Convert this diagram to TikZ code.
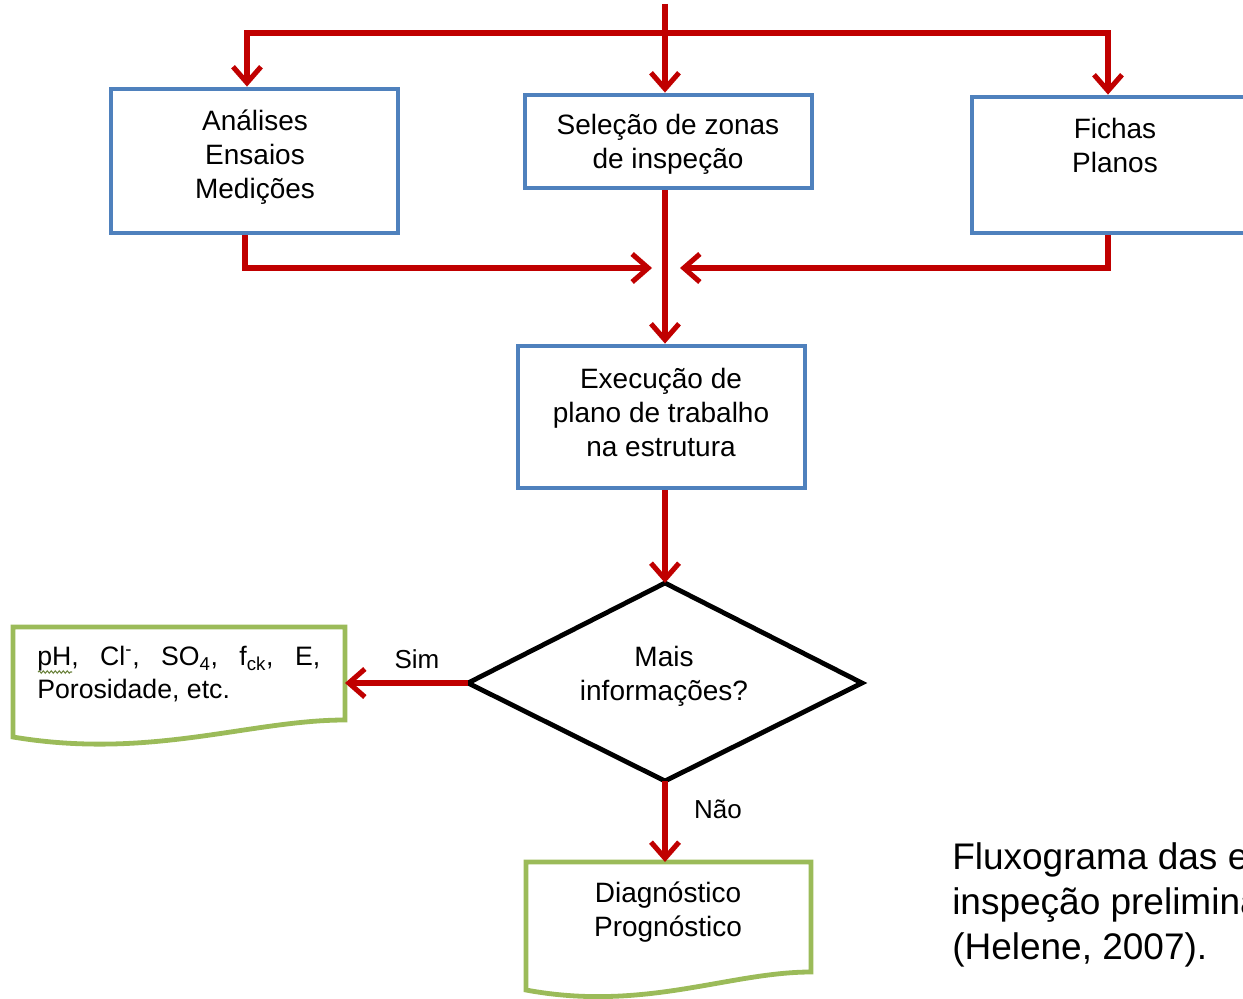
\documentclass[tikz,border=0pt]{standalone}
\usepackage{fontspec}
\setmainfont{Liberation Sans}
\usetikzlibrary{arrows.meta,decorations.pathmorphing}
\definecolor{fred}{HTML}{C00000}
\definecolor{fblue}{HTML}{4F81BD}
\definecolor{fgreen}{HTML}{9BBB59}
\tikzset{
  rl/.style={draw=fred,line width=3.8pt},
  ra/.style={rl,-{Straight Barb[length=12pt,width=21pt,line width=3.8pt]}},
  bbox/.style={draw=fblue,line width=3.6pt,fill=white,inner sep=0pt},
  docline/.style={draw=fgreen,line width=3.6pt,fill=white,line join=miter},
  dia/.style={draw=black,line width=3.6pt,line join=miter,fill=white},
  txt/.style={align=center,inner sep=0pt,font=\fontsize{21}{25.5}\selectfont},
  lbl/.style={inner sep=0pt,font=\fontsize{19.5}{23}\selectfont},
}
\begin{document}
\begin{tikzpicture}[x=0.75pt,y=-0.75pt]
\useasboundingbox (0,0) rectangle (1243,999);
\clip (0,0) rectangle (1243,999);
% boxes
\node[bbox,minimum width=215.25pt,minimum height=108pt] (b1) at (254.5,161) {};
\node[bbox,minimum width=215.25pt,minimum height=69.75pt] (b2) at (668.5,141.5) {};
\node[bbox,minimum width=215.25pt,minimum height=102pt] (b3) at (1115.5,165) {};
\node[bbox,minimum width=215.25pt,minimum height=106.5pt] (b4) at (661.5,417) {};
\node[txt] (t1) at (255,157) {Análises\\Ensaios\\Medições};
\node[txt] (t2) at (668,144) {Seleção de zonas\\de inspeção};
\node[txt] (t3) at (1115,145) {Fichas\\Planos};
\node[txt] (t4) at (661,412) {Execução de\\plano de trabalho\\na estrutura};
% diamond
\coordinate (dT) at (665,583);
\coordinate (dL) at (468,683);
\coordinate (dR) at (862,683);
\coordinate (dB) at (665,781);
\draw[dia] (dT) -- (dR) -- (dB) -- (dL) -- cycle;
\node[txt] (t5) at (664,676) {Mais\\informações?};
% documents
\coordinate (d1ne) at (345,627);
\coordinate (d1e) at (345,683);
\draw[docline] (13,627) -- (d1ne) -- (345,720) .. controls (250,720) and (150,760) .. (13,737) -- cycle;
\node[inner sep=0pt,anchor=west,font=\fontsize{20}{24}\selectfont] (t6a) at (37,659)
  {\hbox to 212.25pt{pH,\hfill Cl\textsuperscript{-},\hfill SO\textsubscript{4},\hfill f\textsubscript{ck},\hfill E,}};
\node[inner sep=0pt,anchor=west,font=\fontsize{20}{24}\selectfont] (t6b) at (37,691) {Porosidade, etc.};
\draw[draw=fgreen!70!black,line width=0.8pt,decorate,decoration={snake,amplitude=0.9pt,segment length=3pt}] (38,672) -- (72,672);
\coordinate (d2n) at (665,862);
\draw[docline] (526,862) -- (811,862) -- (811,972) .. controls (729,972) and (644,1012) .. (526,990) -- cycle;
\node[txt] (t7) at (668,912) {Diagnóstico\\Prognóstico};
% caption (cut off at the right edge, as in the reference)
\node[anchor=north west,align=left,inner sep=0pt,font=\fontsize{27.75}{33.75}\selectfont] (cap) at (952,842)
  {Fluxograma das etapas de\\inspeção preliminar\\(Helene, 2007).};
% connectors
\coordinate (top) at (665,4);
\coordinate (j2) at (665,33);
\coordinate (j1) at (247,33);
\coordinate (j3) at (1108,33);
\draw[rl] (top) -- (j2);
\draw[rl,line cap=rect] (j1) -- (j3);
\draw[ra] (j1) -- (j1 |- b1.north);
\draw[ra] (j2) -- (j2 |- b2.north);
\draw[ra] (j3) -- (j3 |- b3.north);
\coordinate (m1) at (245,268);
\coordinate (m3) at (1108,268);
\coordinate (mL) at (652,268);
\coordinate (mR) at (680,268);
\draw[ra,line join=miter] (m1 |- b1.south) -- (m1) -- (mL);
\draw[ra,line join=miter] (m3 |- b3.south) -- (m3) -- (mR);
\draw[ra] (j2 |- b2.south) -- (j2 |- b4.north);
\draw[ra] (j2 |- b4.south) -- (dT);
\draw[ra] (dL) -- (d1e);
\draw[ra] (dB) -- (d2n);
\node[lbl] (sim) at (417,659) {Sim};
\node[lbl] (nao) at (718,809) {Não};
\end{tikzpicture}
\end{document}
